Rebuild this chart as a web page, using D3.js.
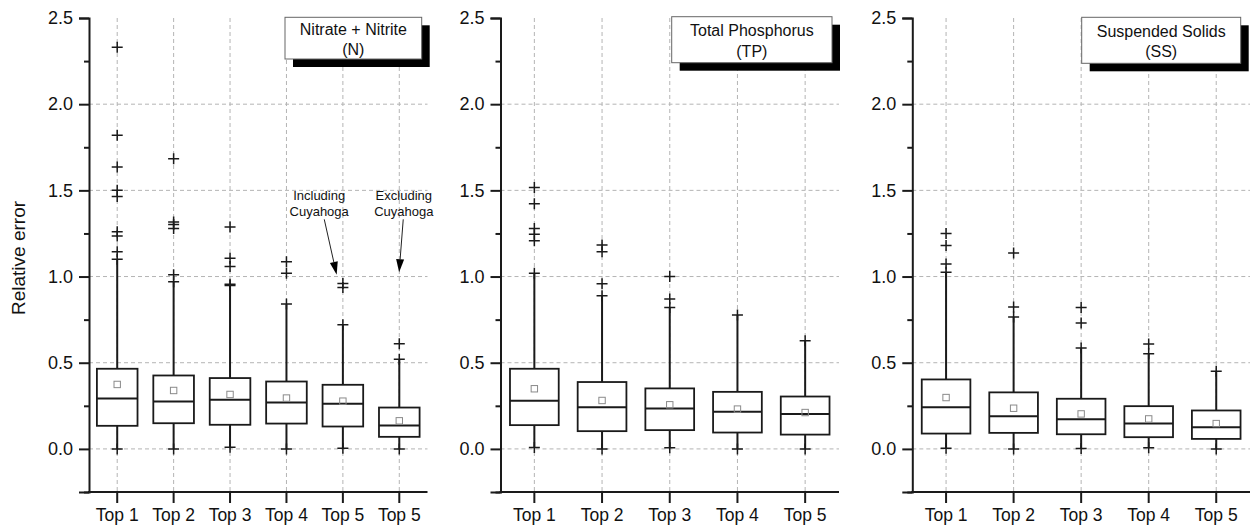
<!DOCTYPE html>
<html><head><meta charset="utf-8">
<script src="https://cdn.jsdelivr.net/npm/d3@7"></script>
<style>
body{margin:0;background:#fff}
svg{display:block}
text{font-family:"Liberation Sans",Arial,Helvetica,sans-serif;fill:#111}
</style>
</head><body>
<svg id="c" width="1250" height="529"></svg>
<script>
// ---------- data ----------
const catsN  = ["Top 1","Top 2","Top 3","Top 4","Top 5","Top 5"];
const catsTP = ["Top 1","Top 2","Top 3","Top 4","Top 5"];
const catsSS = ["Top 1","Top 2","Top 3","Top 4","Top 5"];
const yTicks = [0, 0.5, 1.0, 1.5, 2.0, 2.5];
const yMinor = [-0.25, 0.25, 0.75, 1.25, 1.75, 2.25];
const yGrid  = [0, 0.5, 1.0, 1.5, 2.0];

// Nitrate + Nitrite
const q1N   = [0.134, 0.149, 0.140, 0.147, 0.130, 0.070];
const medN  = [0.293, 0.275, 0.285, 0.269, 0.262, 0.136];
const q3N   = [0.465, 0.426, 0.411, 0.391, 0.372, 0.240];
const meanN = [0.374, 0.339, 0.316, 0.295, 0.277, 0.163];
const lowN  = [0.0, 0.0, 0.01, 0.0, 0.004, 0.0];
const highN = [1.10, 0.97, 0.948, 0.84, 0.72, 0.52];
const outN  = [[1.144, 1.235, 1.26, 1.465, 1.50, 1.636, 1.82, 2.33],
               [1.01, 1.279, 1.302, 1.317, 1.683],
               [0.955, 1.058, 1.106, 1.288],
               [1.019, 1.086],
               [0.937, 0.96],
               [0.61]];

// Total Phosphorus
const q1TP   = [0.138, 0.103, 0.109, 0.095, 0.083];
const medTP  = [0.279, 0.242, 0.234, 0.215, 0.202];
const q3TP   = [0.465, 0.388, 0.351, 0.331, 0.304];
const meanTP = [0.349, 0.281, 0.256, 0.231, 0.211];
const lowTP  = [0.008, 0.0, 0.006, 0.0, 0.0];
const highTP = [1.019, 0.888, 0.82, 0.777, 0.628];
const outTP  = [[1.207, 1.246, 1.279, 1.423, 1.516],
                [0.958, 1.144, 1.183],
                [0.87, 1.0],
                [],
                []];

// Suspended Solids
const q1SS   = [0.089, 0.093, 0.085, 0.068, 0.058];
const medSS  = [0.242, 0.190, 0.172, 0.147, 0.126];
const q3SS   = [0.403, 0.328, 0.291, 0.248, 0.223];
const meanSS = [0.298, 0.236, 0.203, 0.174, 0.147];
const lowSS  = [0.004, 0.0, 0.002, 0.006, 0.0];
const highSS = [1.025, 0.766, 0.585, 0.552, 0.450];
const outSS  = [[1.073, 1.18, 1.25],
                [0.824, 1.137],
                [0.73, 0.82],
                [0.609],
                []];

const titleN  = ["Nitrate + Nitrite", "(N)"];
const titleTP = ["Total Phosphorus", "(TP)"];
const titleSS = ["Suspended Solids", "(SS)"];

// annotations (panel 1), in category-index / value units
const notes = [
  {lines: ["Including", "Cuyahoga"], tx: 3.58, ty: 1.444, ax0: 3.67, ay0: 1.332, ax1: 3.89, ay1: 1.010},
  {lines: ["Excluding", "Cuyahoga"], tx: 5.08, ty: 1.444, ax0: 5.07, ay0: 1.332, ax1: 4.997, ay1: 1.025}
];

// ---------- layout ----------
const svg = d3.select("#c");
const yTop = 18, yBot = 492;
const y = d3.scaleLinear().domain([-0.25, 2.5]).range([yBot, yTop]);

const panels = [
  {cats: catsN, q1: q1N, med: medN, q3: q3N, mean: meanN, low: lowN, high: highN, out: outN,
   title: titleN, x0: 89, x1: 427.5, lg: {x: 285, y: 17.3, w: 136.7, h: 41.7, t1: 17.5, t2: 38}, notes: notes},
  {cats: catsTP, q1: q1TP, med: medTP, q3: q3TP, mean: meanTP, low: lowTP, high: highTP, out: outTP,
   title: titleTP, x0: 500.5, x1: 839, lg: {x: 671.7, y: 16.7, w: 160.3, h: 46, t1: 19.5, t2: 40}, notes: []},
  {cats: catsSS, q1: q1SS, med: medSS, q3: q3SS, mean: meanSS, low: lowSS, high: highSS, out: outSS,
   title: titleSS, x0: 912.3, x1: 1250, lg: {x: 1081.7, y: 17.3, w: 159, h: 46, t1: 19.5, t2: 40}, notes: []}
];

const gridColor = "#b4b4b4";
const ink = "#1a1a1a";

function plus(g, cx, cy) {
  g.append("path").attr("d", `M${cx-5.5},${cy}H${cx+5.5}M${cx},${cy-5.5}V${cy+5.5}`)
    .attr("stroke", ink).attr("stroke-width", 1.5).attr("fill", "none");
}

panels.forEach(p => {
  const idx = p.cats.map((d, i) => i);
  const x = d3.scaleBand().domain(idx).range([p.x0, p.x1]).paddingInner(0).paddingOuter(0);
  const cx = i => x(i) + x.bandwidth() / 2;
  const xi = d3.scaleLinear().domain([-0.5, p.cats.length - 0.5]).range([p.x0, p.x1]);
  const bw = x.step() * 0.72;
  const g = svg.append("g");

  // grid
  g.selectAll(".hg").data(yGrid).join("line")
    .attr("x1", p.x0).attr("x2", p.x1).attr("y1", d => y(d)).attr("y2", d => y(d))
    .attr("stroke", gridColor).attr("stroke-width", 1).attr("stroke-dasharray", "4,3");
  g.selectAll(".vg").data(idx).join("line")
    .attr("x1", d => cx(d)).attr("x2", d => cx(d)).attr("y1", yTop).attr("y2", yBot)
    .attr("stroke", gridColor).attr("stroke-width", 1).attr("stroke-dasharray", "4,3");

  // boxes
  idx.forEach(i => {
    const c = cx(i);
    g.append("line").attr("x1", c).attr("x2", c).attr("y1", y(p.low[i])).attr("y2", y(p.q1[i]))
      .attr("stroke", ink).attr("stroke-width", 2);
    g.append("line").attr("x1", c).attr("x2", c).attr("y1", y(p.q3[i])).attr("y2", y(p.high[i]))
      .attr("stroke", ink).attr("stroke-width", 2);
    g.append("rect").attr("x", c - bw / 2).attr("y", y(p.q3[i]))
      .attr("width", bw).attr("height", y(p.q1[i]) - y(p.q3[i]))
      .attr("fill", "#fff").attr("stroke", ink).attr("stroke-width", 1.8);
    g.append("line").attr("x1", c - bw / 2).attr("x2", c + bw / 2)
      .attr("y1", y(p.med[i])).attr("y2", y(p.med[i]))
      .attr("stroke", ink).attr("stroke-width", 2);
    g.append("rect").attr("x", c - 3.2).attr("y", y(p.mean[i]) - 3.2).attr("width", 6.4).attr("height", 6.4)
      .attr("fill", "none").attr("stroke", "#8a8a8a").attr("stroke-width", 1);
    plus(g, c, y(p.low[i]));
    plus(g, c, y(p.high[i]));
    p.out[i].forEach(v => plus(g, c, y(v)));
  });

  // y axis
  const ya = d3.axisLeft(y).tickValues(yTicks).tickFormat(d3.format(".1f")).tickSize(10).tickPadding(6);
  const yg = g.append("g").attr("transform", `translate(${p.x0},0)`).call(ya);
  yg.select(".domain").attr("stroke", ink).attr("stroke-width", 2);
  yg.selectAll(".tick line").attr("stroke", ink).attr("stroke-width", 2);
  yg.selectAll(".tick text").style("font-size", "18px").attr("fill", "#111");
  const ym = d3.axisLeft(y).tickValues(yMinor).tickFormat("").tickSize(5);
  const ymg = g.append("g").attr("transform", `translate(${p.x0},0)`).call(ym);
  ymg.select(".domain").remove();
  ymg.selectAll(".tick line").attr("stroke", ink).attr("stroke-width", 2);

  // x axis
  const xa = d3.axisBottom(x).tickFormat(i => p.cats[i]).tickSize(11).tickPadding(6).tickSizeOuter(0);
  const xg = g.append("g").attr("transform", `translate(0,${yBot})`).call(xa);
  xg.select(".domain").attr("stroke", ink).attr("stroke-width", 2.2)
    .attr("d", `M${p.x0 - 1},0H${p.x1}`);
  xg.selectAll(".tick line").attr("stroke", ink).attr("stroke-width", 2);
  xg.selectAll(".tick text").style("font-size", "17.5px").attr("fill", "#111");

  // legend box with shadow
  const L = p.lg;
  g.append("rect").attr("x", L.x + 8).attr("y", L.y + 8).attr("width", L.w).attr("height", L.h).attr("fill", "#000");
  g.append("rect").attr("x", L.x).attr("y", L.y).attr("width", L.w).attr("height", L.h)
    .attr("fill", "#fff").attr("stroke", "#666").attr("stroke-width", 1);
  g.append("text").attr("x", L.x + L.w / 2).attr("y", L.y + L.t1).attr("text-anchor", "middle")
    .style("font-size", "16px").text(p.title[0]);
  g.append("text").attr("x", L.x + L.w / 2).attr("y", L.y + L.t2).attr("text-anchor", "middle")
    .style("font-size", "16px").text(p.title[1]);

  // annotations
  p.notes.forEach(n => {
    n.lines.forEach((s, k) => {
      g.append("text").attr("x", xi(n.tx)).attr("y", y(n.ty) + k * 16).attr("text-anchor", "middle")
        .style("font-size", "13px").text(s);
    });
    const X0 = xi(n.ax0), Y0 = y(n.ay0), X1 = xi(n.ax1), Y1 = y(n.ay1);
    const ang = Math.atan2(Y1 - Y0, X1 - X0);
    const hl = 13, hw = 4;
    const bx = X1 - hl * Math.cos(ang), by = Y1 - hl * Math.sin(ang);
    g.append("line").attr("x1", X0).attr("y1", Y0).attr("x2", bx).attr("y2", by)
      .attr("stroke", "#222").attr("stroke-width", 1);
    const px = -Math.sin(ang) * hw, py = Math.cos(ang) * hw;
    g.append("path").attr("d", `M${X1},${Y1}L${bx + px},${by + py}L${bx - px},${by - py}Z`).attr("fill", "#000");
  });
});

// y axis title
svg.append("text").attr("transform", "translate(25,258) rotate(-90)").attr("text-anchor", "middle")
  .style("font-size", "19px").text("Relative error");
</script>
</body></html>
